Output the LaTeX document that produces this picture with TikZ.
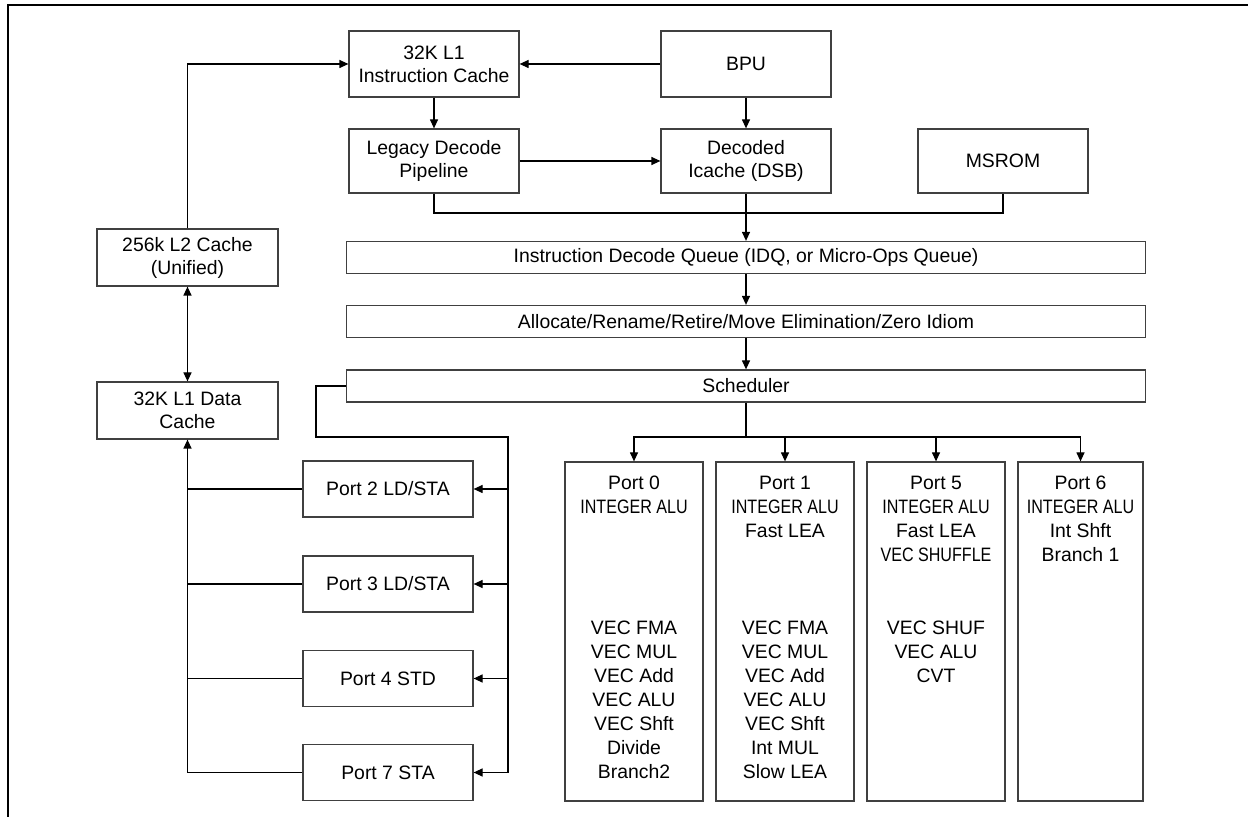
\documentclass[tikz,border=0pt]{standalone}
\usepackage{fontspec}
\setmainfont{Liberation Sans}
\usepackage{graphicx}
\usepackage{tikz}
\usetikzlibrary{arrows.meta}
\tikzstyle{arrow}=[draw=black, line width=0.6pt, >={Triangle[length=4.5pt, width=4pt]}]
\tikzstyle{unit}=[draw=black!75, line width=0.6pt, rectangle, inner sep=0pt, align=center, minimum width=85pt, font=\fontsize{9.7}{11.5}\selectfont]
\tikzstyle{bar}=[unit, minimum width=399.5pt, minimum height=16pt]
\tikzstyle{port}=[unit, minimum width=69pt, minimum height=169.5pt]
\tikzstyle{porttext}=[anchor=north, inner sep=0pt, align=center, font=\fontsize{9.7}{12}\selectfont]
\newcommand{\squeezed}[1]{\scalebox{0.83}[1]{#1}}

\begin{document}
\begin{tikzpicture}[x=0.5pt, y=-0.5pt]
	\useasboundingbox (0,0) rectangle (1248,817);
	\draw[line width=1.25pt] (8,817) -- (8,5) -- (1248,5);

	\node[unit, minimum height=33pt] (l1i) at (434,64) {32K L1\\Instruction Cache};
	\node[unit, minimum height=33pt] (bpu) at (746,64) {BPU};
	\node[unit, minimum height=32pt] (leg) at (434,161) {Legacy Decode\\Pipeline};
	\node[unit, minimum height=32pt] (dsb) at (746,161) {Decoded\\Icache (DSB)};
	\node[unit, minimum height=32pt] (msrom) at (1003,161) {MSROM};
	\node[bar] (idq) at (746,257.5) {Instruction Decode Queue (IDQ, or Micro-Ops Queue)};
	\node[bar] (alloc) at (746,321.5) {Allocate/Rename/Retire/Move Elimination/Zero Idiom};
	\node[bar] (sched) at (746,386) {Scheduler};
	\node[unit, minimum width=90.5pt, minimum height=28.5pt] (l2) at (187.5,257.5) {256k L2 Cache\\(Unified)};
	\node[unit, minimum width=90.5pt, minimum height=28.5pt] (l1d) at (187.5,410.5) {32K L1 Data\\Cache};

	\node[unit, minimum height=28pt] (p2) at (388,489) {Port 2 LD/STA};
	\node[unit, minimum height=28pt] (p3) at (388,584) {Port 3 LD/STA};
	\node[unit, minimum height=28pt] (p4) at (388,678.5) {Port 4 STD};
	\node[unit, minimum height=28pt] (p7) at (388,772.5) {Port 7 STA};

	\node[port] (p0) at (634,631.5) {};
	\node[port] (p1) at (785,631.5) {};
	\node[port] (p5) at (936,631.5) {};
	\node[port, minimum width=62.5pt] (p6) at (1080.5,631.5) {};
	\node[porttext] (p0txt) at (634,476) {Port 0\\\squeezed{INTEGER ALU}\\[48.5pt]VEC FMA\\VEC MUL\\VEC Add\\VEC ALU\\VEC Shft\\Divide\\Branch2};
	\node[porttext] (p1txt) at (785,476) {Port 1\\\squeezed{INTEGER ALU}\\Fast LEA\\[36.5pt]VEC FMA\\VEC MUL\\VEC Add\\VEC ALU\\VEC Shft\\Int MUL\\Slow LEA};
	\node[porttext] (p5txt) at (936,476) {Port 5\\\squeezed{INTEGER ALU}\\Fast LEA\\\squeezed{VEC SHUFFLE}\\[24.5pt]VEC SHUF\\VEC ALU\\CVT};
	\node[porttext] (p6txt) at (1080.5,476) {Port 6\\\squeezed{INTEGER ALU}\\Int Shft\\Branch 1};

	\coordinate (merge) at (746,213);
	\coordinate (fan) at (746,437);
	\coordinate (bend) at (316,437);
	\coordinate (bus) at (508,437);

	\draw[arrow, ->] (l2.north) |- (l1i.west);
	\draw[arrow, ->] (bpu.west) -- (l1i.east);
	\draw[arrow, ->] (l1i.south) -- (leg.north);
	\draw[arrow, ->] (bpu.south) -- (dsb.north);
	\draw[arrow, ->] (leg.east) -- (dsb.west);
	\draw[arrow] (leg.south) |- (merge) -| (msrom.south);
	\draw[arrow, ->] (dsb.south) -- (idq.north);
	\draw[arrow, ->] (idq.south) -- (alloc.north);
	\draw[arrow, ->] (alloc.south) -- (sched.north);
	\draw[arrow] (sched.south) -- (fan);
	\foreach \p in {p0,p1,p5,p6}
		\draw[arrow, ->] (fan) -| (\p.north);
	\draw[arrow] (sched.west) -| (bend) -- (bus) -- (bus |- p7.east);
	\foreach \p in {p2,p3,p4,p7}
		\draw[arrow, ->] (bus |- \p.east) -- (\p.east);
	\foreach \p in {p2,p3,p4}
		\draw[arrow] (\p.west) -- (l1d.south |- \p.west);
	\draw[arrow, ->] (p7.west) -| (l1d.south);
	\draw[arrow, <->] (l2.south) -- (l1d.north);
\end{tikzpicture}
\end{document}
